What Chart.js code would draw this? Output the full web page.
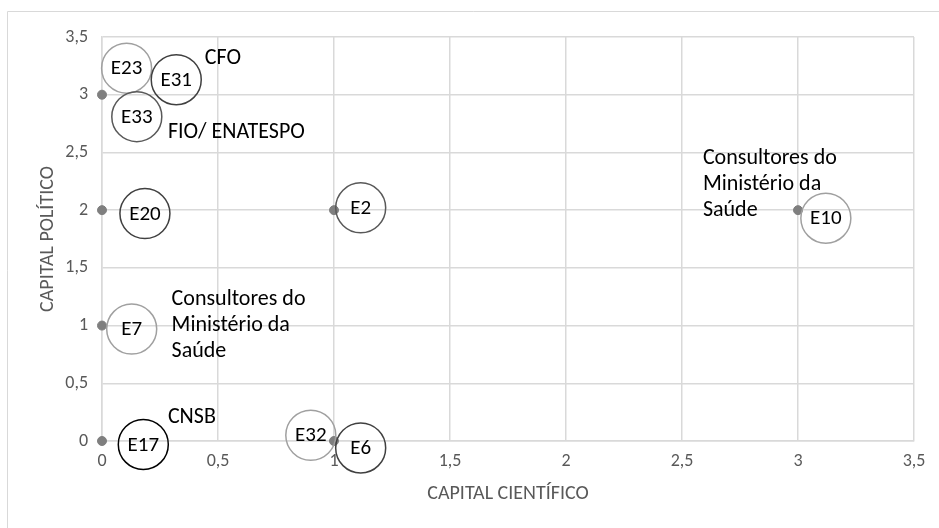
<!DOCTYPE html>
<html>
<head>
<meta charset="utf-8">
<script src="https://cdn.jsdelivr.net/npm/chart.js@4"></script>
<style>
  html, body { margin: 0; padding: 0; background: #fff; }
  #wrap { position: relative; width: 939px; height: 528px; }
</style>
</head>
<body>
<div id="wrap"><canvas id="chartCanvas" width="939" height="528"></canvas></div>
<script>
// grey dots: actor positions
const pointX = [0, 0, 1, 3, 0, 0, 1];
const pointY = [3, 2, 2, 2, 1, 0, 0];

// interview circles (label, x, y, stroke colour)
const circleLabels = ['E23', 'E31', 'E33', 'E20', 'E2', 'E10', 'E7', 'E17', 'E32', 'E6'];
const circleX = [0.106, 0.32, 0.15, 0.185, 1.115, 3.12, 0.128, 0.178, 0.90, 1.115];
const circleY = [3.23, 3.13, 2.81, 1.97, 2.02, 1.93, 0.97, -0.03, 0.05, -0.06];
const circleColors = ['#a0a0a0', '#404040', '#595959', '#404040', '#595959',
                      '#a0a0a0', '#a0a0a0', '#000000', '#a0a0a0', '#404040'];

// free text notes
const noteTexts = [
    ['CFO'],
    ['FIO/ ENATESPO'],
    ['Consultores do', 'Ministério da', 'Saúde'],
    ['Consultores do', 'Ministério da', 'Saúde'],
    ['CNSB']
];
const noteX = [0.443, 0.284, 0.30, 2.59, 0.284];
const noteY = [3.31, 2.67, 1.225, 2.45, 0.20];

const FONT = 'Carlito, Lato, "Open Sans", sans-serif';

const annotations = {
    id: 'annotations',
    beforeDraw(chart) {
        const c = chart.ctx;
        c.save();
        c.strokeStyle = '#d9d9d9';
        c.lineWidth = 1;
        c.beginPath();
        c.moveTo(945, 11.5);
        c.lineTo(7.5, 11.5);
        c.lineTo(7.5, 540);
        c.stroke();
        c.restore();
    },
    afterDatasetsDraw(chart) {
        const c = chart.ctx;
        const xs = chart.scales.x, ys = chart.scales.y;
        c.save();
        c.textBaseline = 'middle';
        c.font = '21px ' + FONT;
        circleLabels.forEach(function (lab, i) {
            const px = xs.getPixelForValue(circleX[i]);
            const py = ys.getPixelForValue(circleY[i]);
            c.beginPath();
            c.arc(px, py, 25, 0, Math.PI * 2);
            c.strokeStyle = circleColors[i];
            c.lineWidth = 1.5;
            c.stroke();
            c.fillStyle = '#000';
            c.textAlign = 'center';
            c.fillText(lab, px, py + 1);
        });
        c.font = '22px ' + FONT;
        c.textAlign = 'left';
        c.fillStyle = '#000';
        noteTexts.forEach(function (lines, i) {
            const px = xs.getPixelForValue(noteX[i]);
            const py = ys.getPixelForValue(noteY[i]);
            lines.forEach(function (t, j) {
                c.fillText(t, px, py + j * 26);
            });
        });
        c.restore();
    }
};

const ctx = document.getElementById('chartCanvas').getContext('2d');
const pts = pointX.map(function (x, i) { return { x: x, y: pointY[i] }; });

new Chart(ctx, {
    type: 'scatter',
    data: {
        datasets: [{
            data: pts,
            backgroundColor: '#7f7f7f',
            borderColor: '#7f7f7f',
            pointRadius: 4.5,
            pointHoverRadius: 4.5,
            clip: false
        }]
    },
    options: {
        responsive: false,
        animation: false,
        layout: { padding: { top: 37, right: 25, left: 0, bottom: 0 } },
        plugins: {
            legend: { display: false },
            tooltip: { enabled: false }
        },
        scales: {
            x: {
                type: 'linear',
                min: 0,
                max: 3.5,
                afterFit: function (s) { s.height = 528 - 441; },
                ticks: {
                    stepSize: 0.5,
                    color: '#595959',
                    padding: 10,
                    font: { family: FONT, size: 18 },
                    callback: function (v) { return String(v).replace('.', ','); }
                },
                grid: { color: '#d9d9d9', lineWidth: 1.5, drawTicks: false },
                border: { color: '#d9d9d9', width: 1.5 },
                title: {
                    display: true,
                    text: 'CAPITAL CIENTÍFICO',
                    color: '#595959',
                    font: { family: FONT, size: 20 },
                    padding: { top: 0, bottom: 22 }
                }
            },
            y: {
                type: 'linear',
                min: 0,
                max: 3.5,
                afterFit: function (s) { s.width = 102; },
                ticks: {
                    stepSize: 0.5,
                    color: '#595959',
                    padding: 14,
                    font: { family: FONT, size: 18 },
                    callback: function (v) { return String(v).replace('.', ','); }
                },
                grid: { color: '#d9d9d9', lineWidth: 1.5, drawTicks: false },
                border: { color: '#d9d9d9', width: 1.5 },
                title: {
                    display: true,
                    text: 'CAPITAL POLÍTICO',
                    color: '#595959',
                    font: { family: FONT, size: 20 },
                    padding: { top: 36, bottom: 0 }
                }
            }
        }
    },
    plugins: [annotations]
});
</script>
</body>
</html>
